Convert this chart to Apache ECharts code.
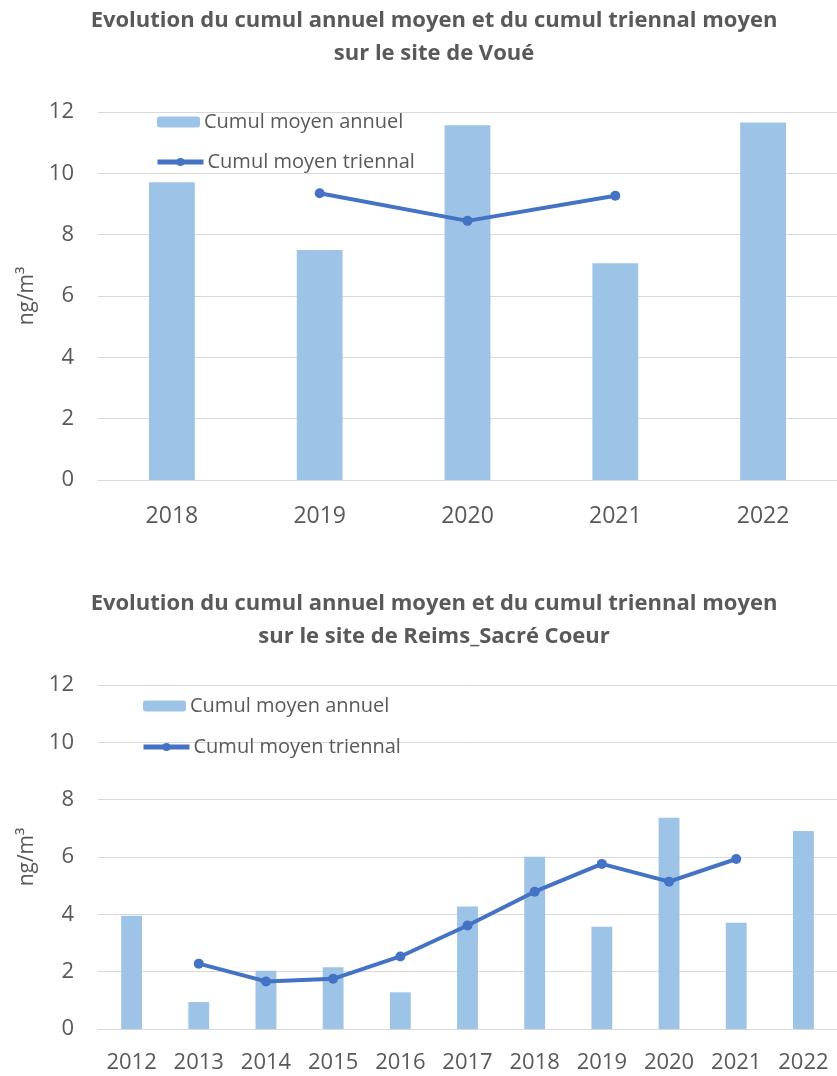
<!DOCTYPE html>
<html>
<head>
<meta charset="utf-8">
<script src="https://cdn.jsdelivr.net/npm/echarts@6/dist/echarts.min.js"></script>
<style>
  html, body { margin: 0; padding: 0; background: #ffffff; }
  #chart { width: 837px; height: 1076px; }
</style>
</head>
<body>
<div id="chart"></div>
<script>
// Site de Voué
const yearsVoue = ['2018', '2019', '2020', '2021', '2022'];
const annuelVoue = [9.71, 7.50, 11.57, 7.07, 11.66];
const triennalVoue = [null, 9.35, 8.45, 9.27, null];

// Site de Reims_Sacré Coeur
const yearsReims = ['2012', '2013', '2014', '2015', '2016', '2017', '2018', '2019', '2020', '2021', '2022'];
const annuelReims = [3.95, 0.94, 2.03, 2.15, 1.28, 4.27, 6.01, 3.57, 7.37, 3.71, 6.91];
const triennalReims = [null, 2.28, 1.66, 1.75, 2.53, 3.61, 4.79, 5.76, 5.14, 5.93, null];

const yTicks = { min: 0, max: 12, interval: 2 };

const titleVoue = 'Evolution du cumul annuel moyen et du cumul triennal moyen\nsur le site de Voué';
const titleReims = 'Evolution du cumul annuel moyen et du cumul triennal moyen\nsur le site de Reims_Sacré Coeur';
const nameAnnuel = 'Cumul moyen annuel';
const nameTriennal = 'Cumul moyen triennal';
const unitLabel = 'ng/m³';

const FONT = '"Open Sans", "Noto Sans", sans-serif';
const TXT = '#595959';
const GRID_C = '#D9D9D9';
const BAR_C = '#9DC3E6';
const LINE_C = '#4472C4';

function makeTitle(text, top) {
  return {
    text: text,
    left: 434,
    top: top,
    textAlign: 'center',
    padding: 0,
    textStyle: { fontFamily: FONT, fontWeight: 'bold', fontSize: 22, color: TXT, lineHeight: 33 }
  };
}

function makeX(cats, gridIndex, fontSize, margin) {
  return {
    type: 'category',
    gridIndex: gridIndex,
    data: cats,
    axisLine: { show: true, lineStyle: { color: GRID_C, width: 1 } },
    axisTick: { show: false },
    axisLabel: { color: TXT, fontFamily: FONT, fontSize: fontSize, margin: margin, interval: 0 }
  };
}

function makeY(gridIndex) {
  return {
    type: 'value',
    gridIndex: gridIndex,
    min: yTicks.min, max: yTicks.max, interval: yTicks.interval,
    name: unitLabel,
    nameLocation: 'middle',
    nameRotate: 90,
    nameGap: 58,
    nameTextStyle: { color: TXT, fontFamily: FONT, fontSize: 21 },
    axisLine: { show: false },
    axisTick: { show: false },
    splitLine: { lineStyle: { color: GRID_C, width: 1 } },
    axisLabel: { color: TXT, fontFamily: FONT, fontSize: 22, margin: 24 }
  };
}

function makeLegend(name, left, top, isLine) {
  return {
    data: [{ name: name, lineStyle: { width: 5 } }],
    left: left,
    top: top,
    padding: 0,
    itemWidth: isLine ? 46 : 43,
    itemHeight: isLine ? 10 : 11,
    itemGap: 0,
    selectedMode: false,
    lineStyle: { width: 5 },
    textStyle: { color: TXT, fontFamily: FONT, fontSize: 20, padding: [0, 0, 0, -1] }
  };
}

function barSeries(data, idx) {
  return {
    name: nameAnnuel,
    type: 'bar',
    xAxisIndex: idx, yAxisIndex: idx,
    data: data,
    barWidth: '31%',
    itemStyle: { color: BAR_C },
    legendIcon: 'rect',
    silent: true
  };
}

function lineSeries(data, idx) {
  return {
    name: nameTriennal,
    type: 'line',
    xAxisIndex: idx, yAxisIndex: idx,
    data: data,
    connectNulls: false,
    symbol: 'circle',
    symbolSize: 10,
    itemStyle: { color: LINE_C },
    lineStyle: { color: LINE_C, width: 4 },
    z: 3,
    silent: true
  };
}

const chart = echarts.init(document.getElementById('chart'), null, { renderer: 'canvas' });
chart.setOption({
  animation: false,
  backgroundColor: '#ffffff',
  title: [makeTitle(titleVoue, 4), makeTitle(titleReims, 587)],
  legend: [
    makeLegend(nameAnnuel, 157, 112, false),
    makeLegend(nameTriennal, 155, 152, true),
    makeLegend(nameAnnuel, 143, 696, false),
    makeLegend(nameTriennal, 141, 737, true)
  ],
  grid: [
    { left: 98, top: 112, width: 748, height: 368 },
    { left: 98, top: 685, width: 748, height: 344 }
  ],
  xAxis: [makeX(yearsVoue, 0, 23, 25), makeX(yearsReims, 1, 22, 23)],
  yAxis: [makeY(0), makeY(1)],
  series: [
    barSeries(annuelVoue, 0),
    lineSeries(triennalVoue, 0),
    barSeries(annuelReims, 1),
    lineSeries(triennalReims, 1)
  ]
});
</script>
</body>
</html>
